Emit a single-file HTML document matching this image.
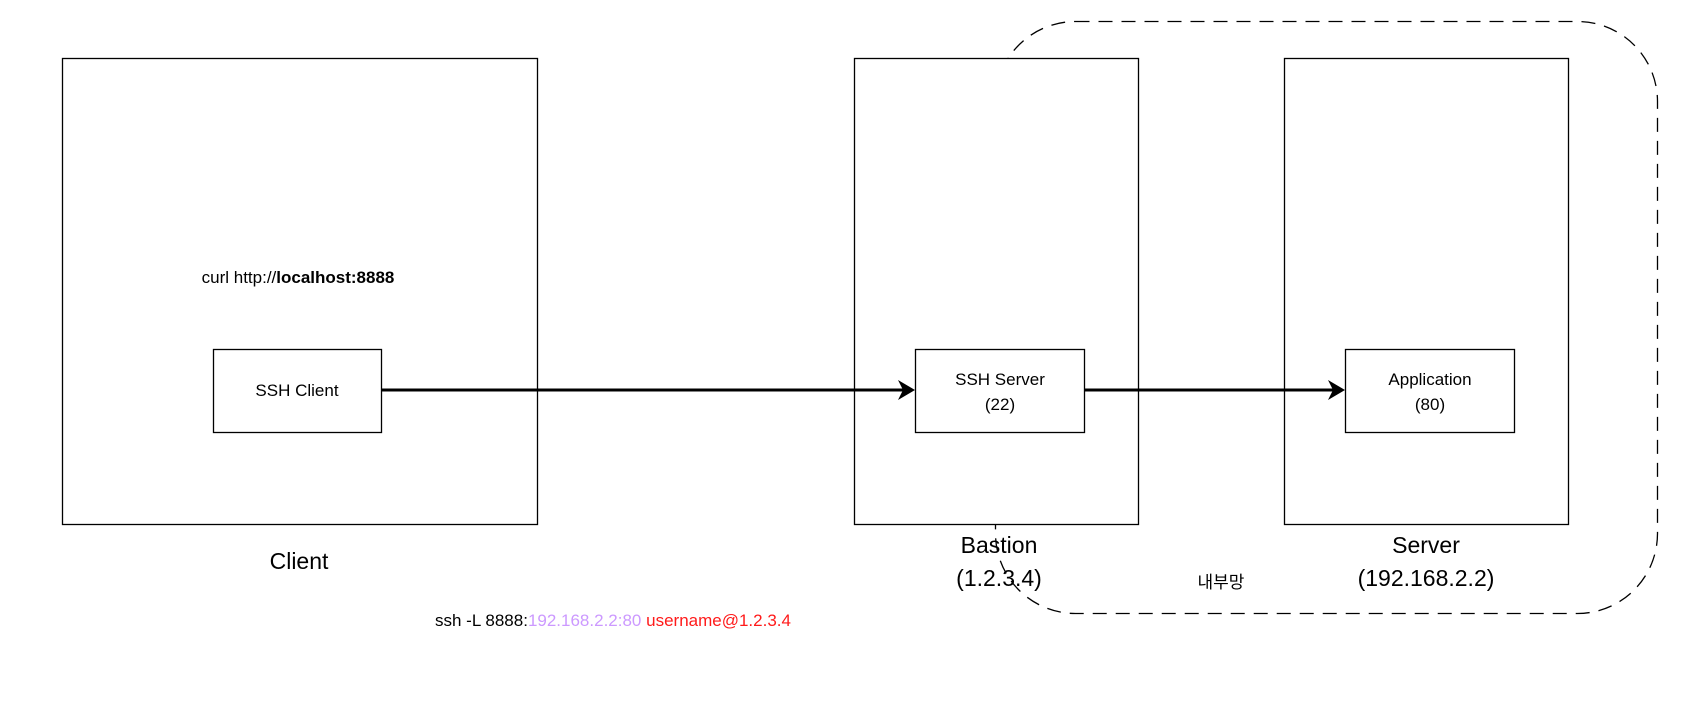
<!DOCTYPE html>
<html><head><meta charset="utf-8"><style>
html,body{margin:0;padding:0;background:#fff;}
svg{display:block;}
text{font-family:"Liberation Sans","Noto Sans CJK KR",sans-serif;}
</style></head><body>
<svg width="1692" height="720" viewBox="0 0 1692 720" xmlns="http://www.w3.org/2000/svg">
<rect x="995.5" y="21.5" width="662" height="592" rx="80" ry="80" fill="none" stroke="#000" stroke-width="1.3" stroke-dasharray="14 9"/>
<rect x="62.5" y="58.5" width="475" height="466" fill="#fff" stroke="#000" stroke-width="1.3"/>
<rect x="854.5" y="58.5" width="284" height="466" fill="#fff" stroke="#000" stroke-width="1.3"/>
<rect x="1284.5" y="58.5" width="284" height="466" fill="#fff" stroke="#000" stroke-width="1.3"/>
<rect x="213.5" y="349.5" width="168" height="83" fill="#fff" stroke="#000" stroke-width="1.3"/>
<rect x="915.5" y="349.5" width="169" height="83" fill="#fff" stroke="#000" stroke-width="1.3"/>
<rect x="1345.5" y="349.5" width="169" height="83" fill="#fff" stroke="#000" stroke-width="1.3"/>
<line x1="382" y1="390" x2="903" y2="390" stroke="#000" stroke-width="3"/>
<polygon points="915,390 898,380 903,390 898,400" fill="#000"/>
<line x1="1085" y1="390" x2="1333" y2="390" stroke="#000" stroke-width="3"/>
<polygon points="1345,390 1328,380 1333,390 1328,400" fill="#000"/>
<text x="298" y="283" font-size="17" text-anchor="middle">curl http://<tspan font-weight="bold">localhost:8888</tspan></text>
<text x="297" y="396" font-size="17" text-anchor="middle">SSH Client</text>
<text x="1000" y="385" font-size="17" text-anchor="middle">SSH Server</text>
<text x="1000" y="410" font-size="17" text-anchor="middle">(22)</text>
<text x="1430" y="385" font-size="17" text-anchor="middle">Application</text>
<text x="1430" y="410" font-size="17" text-anchor="middle">(80)</text>
<text x="299" y="569" font-size="23" text-anchor="middle">Client</text>
<text x="999" y="553" font-size="23" text-anchor="middle">Bastion</text>
<text x="999" y="586" font-size="23" text-anchor="middle">(1.2.3.4)</text>
<text x="1426" y="553" font-size="23" text-anchor="middle">Server</text>
<text x="1426" y="586" font-size="23" text-anchor="middle">(192.168.2.2)</text>
<text x="1221" y="588" font-size="17" text-anchor="middle">내부망</text>
<text x="435" y="626" font-size="17">ssh -L 8888:<tspan fill="#cc99ff">192.168.2.2:80</tspan> <tspan fill="#ff1a1a">username@1.2.3.4</tspan></text>
</svg>
</body></html>
